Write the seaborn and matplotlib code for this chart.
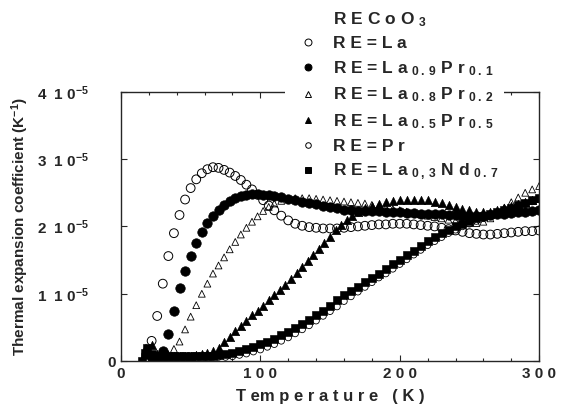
import numpy as np
import pandas as pd
import seaborn as sns
import matplotlib.pyplot as plt
from matplotlib.ticker import MultipleLocator
from matplotlib.lines import Line2D

# Values (alpha in units of 1e-5 K^-1)
T_la = [18, 22, 26, 30, 34, 38, 42, 46, 50, 54, 58, 62, 66, 70, 74, 78, 82, 86, 90, 94, 98, 102, 106, 110,
        115, 120, 125, 130, 135, 140, 145, 150, 155, 160, 165, 170, 175, 180, 185, 190, 195, 200, 205, 210,
        215, 220, 225, 230, 235, 240, 245, 250, 255, 260, 265, 270, 275, 280, 285, 290, 295, 300]
a_la = [0.05, 0.3, 0.67, 1.15, 1.56, 1.9, 2.17, 2.4, 2.57, 2.7, 2.79, 2.85, 2.88, 2.87, 2.84, 2.8, 2.75, 2.69,
        2.62, 2.55, 2.47, 2.39, 2.31, 2.24, 2.16, 2.09, 2.04, 2.01, 1.99, 1.98, 1.97, 1.97, 1.97, 1.98, 1.99,
        2.0, 2.01, 2.02, 2.03, 2.03, 2.04, 2.04, 2.04, 2.03, 2.02, 2.01, 2.0, 1.98, 1.96, 1.94, 1.92, 1.9,
        1.89, 1.88, 1.88, 1.89, 1.9, 1.91, 1.92, 1.93, 1.93, 1.94]

T_pr01 = T_la
a_pr01 = [0.1, 0.05, 0.06, 0.15, 0.4, 0.75, 1.09, 1.34, 1.56, 1.75, 1.92, 2.05, 2.16, 2.25, 2.32, 2.38, 2.42,
          2.45, 2.47, 2.48, 2.48, 2.47, 2.46, 2.45, 2.43, 2.41, 2.39, 2.37, 2.35, 2.33, 2.31, 2.29, 2.27, 2.25,
          2.24, 2.23, 2.23, 2.23, 2.23, 2.22, 2.22, 2.21, 2.2, 2.2, 2.19, 2.19, 2.18, 2.18, 2.17, 2.17, 2.16,
          2.16, 2.16, 2.16, 2.17, 2.18, 2.19, 2.2, 2.21, 2.22, 2.23, 2.24]

T_pr02 = T_la
a_pr02 = [0.2, 0.08, 0.06, 0.07, 0.1, 0.18, 0.29, 0.47, 0.66, 0.83, 1.0, 1.15, 1.3, 1.42, 1.54, 1.66, 1.77,
          1.88, 1.98, 2.07, 2.15, 2.23, 2.29, 2.34, 2.38, 2.41, 2.42, 2.42, 2.42, 2.41, 2.4, 2.39, 2.38, 2.37,
          2.36, 2.35, 2.34, 2.32, 2.3, 2.28, 2.26, 2.24, 2.22, 2.2, 2.18, 2.16, 2.14, 2.12, 2.1, 2.08, 2.06,
          2.05, 2.05, 2.07, 2.12, 2.2, 2.28, 2.36, 2.43, 2.5, 2.55, 2.6]

T_pr05 = [18, 22, 26, 30, 34, 38, 42, 46, 50, 54, 58, 62, 66, 70, 74, 78, 82, 86, 90, 94, 98, 102, 106, 110,
          114, 118, 122, 126, 130, 134, 138, 142, 146, 150, 154, 158, 162, 166, 170, 175, 180, 185, 190, 195,
          200, 205, 210, 215, 220, 225, 230, 235, 240, 245, 250, 255, 260, 265, 270, 275, 280, 285, 290, 295, 300]
a_pr05 = [0.1, 0.24, 0.1, 0.08, 0.07, 0.07, 0.07, 0.08, 0.08, 0.09, 0.1, 0.12, 0.15, 0.2, 0.28, 0.36, 0.44,
          0.52, 0.6, 0.68, 0.75, 0.82, 0.9, 0.98, 1.05, 1.13, 1.22, 1.31, 1.4, 1.49, 1.58, 1.67, 1.76, 1.85,
          1.94, 2.02, 2.09, 2.16, 2.22, 2.27, 2.31, 2.34, 2.37, 2.38, 2.39, 2.4, 2.4, 2.4, 2.39, 2.37, 2.35,
          2.32, 2.29, 2.26, 2.24, 2.22, 2.21, 2.22, 2.24, 2.27, 2.3, 2.33, 2.36, 2.39, 2.42]

T_pr = [18, 22, 26, 30, 34, 38, 42, 46, 50, 54, 58, 62, 66, 70, 75, 80, 85, 90, 95, 100, 105, 110, 115, 120,
        125, 130, 135, 140, 145, 150, 155, 160, 165, 170, 175, 180, 185, 190, 195, 200, 205, 210, 215, 220,
        225, 230, 235, 240, 245, 250, 255, 260, 265, 270, 275, 280, 285, 290, 295, 300]
a_pr = [0.02, 0.08, 0.06, 0.05, 0.05, 0.05, 0.05, 0.05, 0.05, 0.05, 0.06, 0.06, 0.06, 0.06, 0.06, 0.07, 0.09,
        0.11, 0.14, 0.17, 0.21, 0.25, 0.3, 0.35, 0.41, 0.47, 0.53, 0.6, 0.67, 0.74, 0.81, 0.89, 0.96, 1.03,
        1.1, 1.17, 1.24, 1.3, 1.37, 1.44, 1.51, 1.58, 1.65, 1.72, 1.78, 1.84, 1.9, 1.95, 2.0, 2.04, 2.08,
        2.12, 2.15, 2.19, 2.22, 2.26, 2.3, 2.33, 2.37, 2.4]

T_nd = [15, 17, 19, 22, 26, 30, 34, 38, 42, 46, 50, 54, 58, 62, 66, 70, 75, 80, 85, 90, 95, 100, 105, 110,
        115, 120, 125, 130, 135, 140, 145, 150, 155, 160, 165, 170, 175, 180, 185, 190, 195, 200, 205, 210,
        215, 220, 225, 230, 235, 240, 245, 250, 255, 260, 265, 270, 275, 280, 285, 290, 295, 300]
a_nd = [0.0, 0.12, 0.2, 0.1, 0.08, 0.07, 0.07, 0.07, 0.07, 0.07, 0.07, 0.07, 0.08, 0.08, 0.08, 0.09, 0.1, 0.12,
        0.15, 0.18, 0.21, 0.25, 0.29, 0.33, 0.38, 0.43, 0.49, 0.55, 0.61, 0.68, 0.75, 0.82, 0.9, 0.98, 1.04,
        1.1, 1.17, 1.23, 1.3, 1.37, 1.44, 1.5, 1.57, 1.64, 1.71, 1.78, 1.84, 1.9, 1.95, 2.0, 2.04, 2.08,
        2.12, 2.15, 2.18, 2.21, 2.25, 2.28, 2.32, 2.35, 2.39, 2.42]

labels = [r"R E = L a",
          r"R E = L a $_{0\,.\,9}$ P r $_{0\,.\,1}$",
          r"R E = L a $_{0\,.\,8}$ P r $_{0\,.\,2}$",
          r"R E = L a $_{0\,.\,5}$ P r $_{0\,.\,5}$",
          r"R E = P r",
          r"R E = L a $_{0\,,\,3}$ N d $_{0\,.\,7}$"]
title = r"R E C o O $_{3}$"
yticklabels = ["0"] + [r"%d  1 0$^{-5}$" % i for i in range(1, 5)]
xticklabels = ["0", "1 0 0", "2 0 0", "3 0 0"]

sns.set_style("ticks")
plt.rcParams['font.family'] = ['Liberation Sans', 'DejaVu Sans']
plt.rcParams['font.weight'] = 'bold'
plt.rcParams['mathtext.default'] = 'regular'

fig = plt.figure(figsize=(5.76, 4.08), dpi=100)
ax = fig.add_axes([0.21, 0.115, 0.726, 0.66])

series = [
    (T_la, a_la, dict(marker='o', s=40, facecolor='none', edgecolor='black', linewidth=0.7)),
    (T_pr01, a_pr01, dict(marker='o', s=46, color='black', edgecolor='black')),
    (T_pr02, a_pr02, dict(marker='^', s=24, facecolor='none', edgecolor='black', linewidth=0.6)),
    (T_pr05, a_pr05, dict(marker='^', s=36, color='black', edgecolor='black')),
    (T_pr, a_pr, dict(marker='o', s=22, facecolor='none', edgecolor='black', linewidth=0.6)),
    (T_nd, a_nd, dict(marker='s', s=30, color='black', edgecolor='black')),
]
for T, a, kw in series:
    sns.scatterplot(x=T, y=np.array(a) * 1e-5, ax=ax, **kw)

ax.set_xlim(0, 300)
ax.set_ylim(0, 4e-5)
ax.set_xticks([0, 100, 200, 300])
ax.set_xticklabels(xticklabels, fontsize=11, fontweight='bold')
ax.set_yticks([0, 1e-5, 2e-5, 3e-5, 4e-5])
ax.set_yticklabels(yticklabels, fontsize=11, fontweight='bold')
ax.xaxis.set_minor_locator(MultipleLocator(20))
ax.tick_params(which='both', direction='in', top=True, right=True, width=0.8)
ax.tick_params(which='major', length=4, pad=4)
ax.tick_params(which='minor', length=2)
# labels with the exponent sit further from the axis than the lone "0"
for tk in ax.yaxis.get_major_ticks()[1:]:
    tk.set_pad(23)
for sp in ax.spines.values():
    sp.set_linewidth(1.0)

ax.set_xlabel("T em p e r a t u r e   ( K )", fontsize=12, fontweight='bold', labelpad=6)
ax.set_ylabel(r"Thermal expansion coefficient (K$^{-1}$)", fontsize=11, fontweight='bold', labelpad=4)

handles = [Line2D([], [], linestyle='none', marker=kw['marker'], markersize=5 if i not in (2, 4) else 4,
                  markerfacecolor=kw.get('facecolor', 'black'), markeredgecolor='black', markeredgewidth=0.7)
           for i, (T, a, kw) in enumerate(series)]
leg = fig.legend(handles, labels, loc='upper left', bbox_to_anchor=(0.48, 1.01), frameon=True,
                 title="         " + title, fontsize=12.5, title_fontsize=12.5, handletextpad=0.45,
                 labelspacing=0.45, borderpad=0.3, alignment='left')
leg.get_frame().set_edgecolor('none')
leg.get_frame().set_facecolor('white')
leg.get_frame().set_alpha(1)
for t in leg.get_texts():
    t.set_fontweight('bold')
leg.get_title().set_fontweight('bold')

fig.savefig("out.png", dpi=100)
